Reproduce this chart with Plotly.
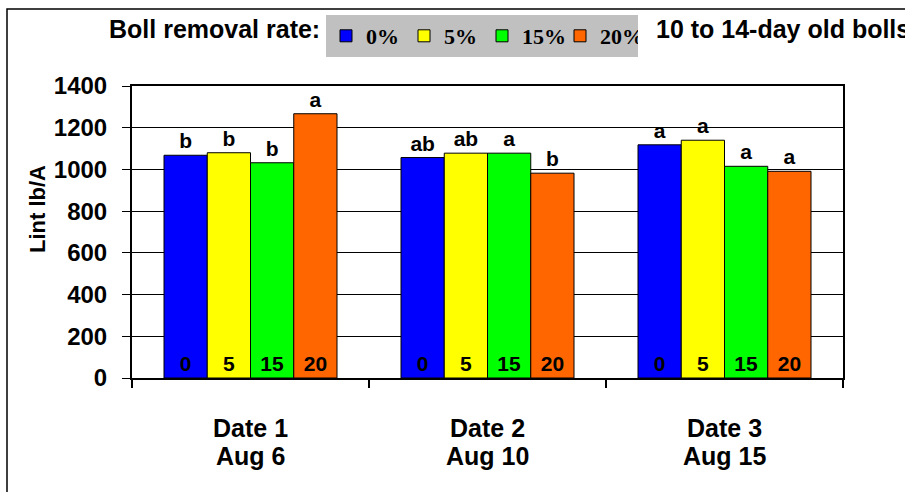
import plotly.graph_objects as go

# Lint yield (lb/A) by boll removal rate on three removal dates
dates = ["Date 1", "Date 2", "Date 3"]
date_days = ["Aug 6", "Aug 10", "Aug 15"]
rates = ["0%", "5%", "15%", "20%"]
rate_numbers = ["0", "5", "15", "20"]
colors = ["#0000FF", "#FFFF00", "#00FF00", "#FF6600"]

lint_0 = [1068, 1057, 1118]
lint_5 = [1080, 1078, 1140]
lint_15 = [1032, 1078, 1015]
lint_20 = [1267, 982, 991]
lint = [lint_0, lint_5, lint_15, lint_20]

# mean separation letters (within each date)
letters_0 = ["b", "ab", "a"]
letters_5 = ["b", "ab", "a"]
letters_15 = ["b", "a", "a"]
letters_20 = ["a", "b", "a"]
letters = [letters_0, letters_5, letters_15, letters_20]

SANS = "Liberation Sans, Arial, sans-serif"
SERIF = "Liberation Serif, Times New Roman, serif"

fig = go.Figure()

for i, rate in enumerate(rates):
    # coloured bar with its significance letter above it
    fig.add_trace(go.Bar(
        x=dates, y=lint[i], name=rate, offsetgroup=rate,
        marker=dict(color=colors[i], line=dict(color="black", width=1)),
        text=letters[i], textposition="outside", constraintext="none",
        outsidetextfont=dict(family=SANS, size=21, color="black", weight="bold"),
        cliponaxis=False, hoverinfo="skip",
    ))
    # transparent twin carrying the rate number at the base of the bar
    fig.add_trace(go.Bar(
        x=dates, y=lint[i], name=rate, offsetgroup=rate, showlegend=False,
        marker=dict(color="rgba(0,0,0,0)", line=dict(width=0)),
        text=[rate_numbers[i]] * len(dates), textposition="inside",
        insidetextanchor="start", textangle=0, constraintext="none",
        insidetextfont=dict(family=SANS, size=21, color="black", weight="bold"),
        hoverinfo="skip",
    ))

L, R, T, B = 132, 62, 86, 114
W, H = 905, 492
pw, ph = W - L - R, H - T - B


def px(x):
    return (x - L) / pw


def py(y):
    return (H - B - y) / ph


annotations = []
for d, day in zip(dates, date_days):
    annotations.append(dict(x=d, y=py(428), xref="x", yref="paper", text=d,
                            showarrow=False, yanchor="middle",
                            font=dict(family=SANS, size=25, color="black", weight="bold")))
    annotations.append(dict(x=d, y=py(456), xref="x", yref="paper", text=day,
                            showarrow=False, yanchor="middle",
                            font=dict(family=SANS, size=25, color="black", weight="bold")))

annotations += [
    dict(x=px(37), y=py(209), xref="paper", yref="paper", text="Lint lb/A",
         textangle=-90, showarrow=False, xanchor="center", yanchor="middle",
         font=dict(family=SANS, size=22, color="black", weight="bold")),
    dict(x=px(107), y=py(29), xref="paper", yref="paper", text="Boll removal rate:",
         showarrow=False, xanchor="left", yanchor="middle",
         font=dict(family=SANS, size=25, color="black", weight="bold")),
    dict(x=px(654), y=py(29), xref="paper", yref="paper", text="10 to 14-day old bolls",
         showarrow=False, xanchor="left", yanchor="middle",
         font=dict(family=SANS, size=25, color="black", weight="bold")),
]

fig.update_layout(
    width=W, height=H,
    margin=dict(l=L, r=R, t=T, b=B, autoexpand=False),
    paper_bgcolor="white", plot_bgcolor="white",
    barmode="group", bargap=0.27, bargroupgap=0,
    showlegend=True,
    legend=dict(orientation="h", x=px(326), y=py(15), xanchor="left", yanchor="top",
                bgcolor="#C0C0C0", borderwidth=0, traceorder="normal",
                itemwidth=30, entrywidth=33, entrywidthmode="pixels",
                font=dict(family=SERIF, size=22, color="black", weight="bold"),
                itemclick=False, itemdoubleclick=False),
    annotations=annotations,
    shapes=[dict(type="rect", xref="paper", yref="paper",
                 x0=px(7), x1=px(960), y0=py(540), y1=py(9),
                 line=dict(color="black", width=1.5), layer="below")],
)

fig.update_xaxes(
    type="category", showticklabels=False,
    showline=True, linecolor="black", linewidth=2, mirror=True,
    ticks="outside", tickson="boundaries", ticklen=8, tickwidth=1.5, tickcolor="black",
    showgrid=False,
)
fig.update_yaxes(
    range=[0, 1400], dtick=200, tick0=0,
    showline=True, linecolor="black", linewidth=2, mirror=True,
    ticks="outside", ticklen=8, tickwidth=1, tickcolor="black",
    ticklabelstandoff=10,
    tickfont=dict(family=SANS, size=24, color="black", weight="bold"),
    showgrid=True, gridcolor="black", gridwidth=1, zeroline=False,
)

fig.write_html("out.html")
